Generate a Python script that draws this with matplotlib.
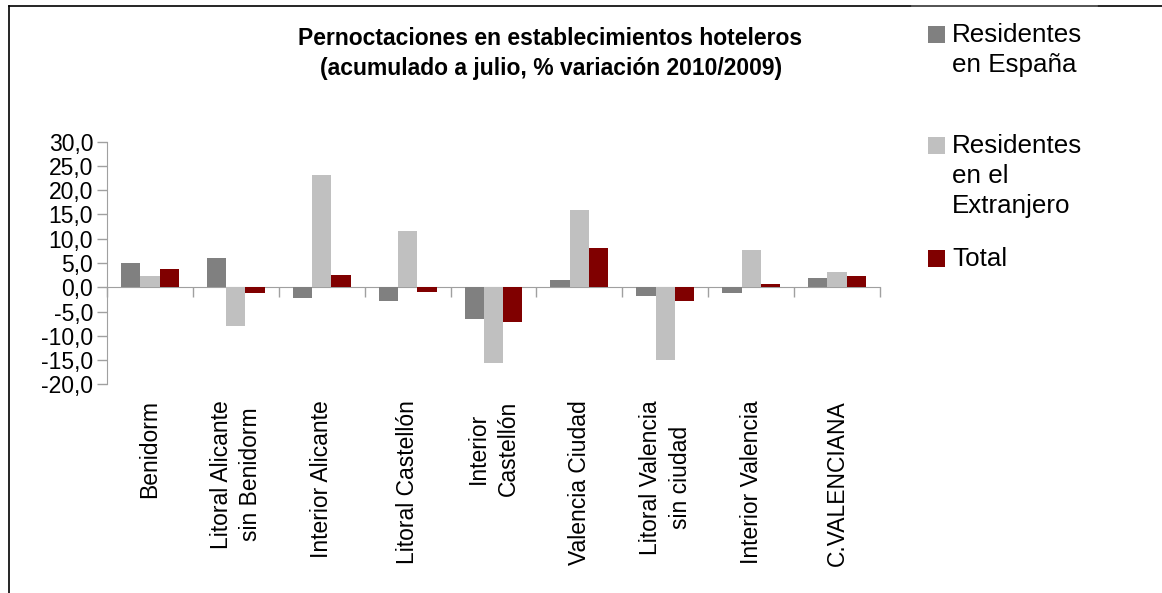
import matplotlib
matplotlib.use("Agg")
import matplotlib.pyplot as plt
import numpy as np
from matplotlib.patches import Rectangle
from matplotlib.lines import Line2D
from matplotlib.ticker import FuncFormatter

plt.rcParams['font.family'] = ['Liberation Sans', 'DejaVu Sans']

categories = ["Benidorm", "Litoral Alicante\nsin Benidorm", "Interior Alicante",
              "Litoral Castellón", "Interior\nCastellón", "Valencia Ciudad",
              "Litoral Valencia\nsin ciudad", "Interior Valencia", "C.VALENCIANA"]
series_names = ["Residentes\nen España", "Residentes\nen el\nExtranjero", "Total"]
residentes_espana = [5.0, 6.0, -2.2, -2.9, -6.6, 1.4, -1.8, -1.2, 1.9]
residentes_extranjero = [2.3, -7.9, 23.1, 11.5, -15.7, 15.9, -15.0, 7.6, 3.1]
total = [3.7, -1.2, 2.5, -1.0, -7.2, 8.0, -2.9, 0.6, 2.3]
colors = ["#808080", "#c0c0c0", "#800000"]
yticks = [-20, -15, -10, -5, 0, 5, 10, 15, 20, 25, 30]

W, H = 1162, 593
fig = plt.figure(figsize=(W / 100, H / 100), dpi=100)
ax = fig.add_axes([107 / W, 1 - 384.3 / H, 773 / W, 242.6 / H])

x = np.arange(len(categories))
bw = 0.225
for i, vals in enumerate([residentes_espana, residentes_extranjero, total]):
    ax.bar(x + (i - 1) * bw, vals, width=bw, color=colors[i], linewidth=0, zorder=2)

ax.set_xlim(-0.5, len(categories) - 0.5)
ax.set_ylim(-20, 30)
ax.set_yticks(yticks)
ax.yaxis.set_major_formatter(FuncFormatter(lambda v, p: f"{v:.1f}".replace('.', ',')))
ax.tick_params(axis='y', direction='out', length=7, color='#a0a0a0', width=1,
               labelsize=16.5, pad=3)
for s in ['top', 'right', 'bottom']:
    ax.spines[s].set_visible(False)
ax.spines['left'].set_color('#a0a0a0')

ax.set_xticks(x)
ax.set_xticklabels(categories, rotation=90, ha='center', va='top',
                   multialignment='center', fontsize=16.5, linespacing=1.36)
ax.tick_params(axis='x', length=0, pad=11.5)

# zero axis with boundary ticks
sec = ax.secondary_xaxis(0.4)
sec.set_xticks(np.arange(-0.5, len(categories), 1.0))
sec.set_xticklabels([])
sec.tick_params(direction='out', length=7, color='#a0a0a0', width=1)
sec.spines['bottom'].set_color('#a0a0a0')

# title
fig.text(550 / W, 1 - 45 / H, "Pernoctaciones en establecimientos hoteleros",
         ha='center', va='baseline', fontsize=16.5, fontweight='bold')
fig.text(551 / W, 1 - 75 / H, "(acumulado a julio, % variación 2010/2009)",
         ha='center', va='baseline', fontsize=16.5, fontweight='bold')

# legend (manual)
leg_baselines = [41.7, 153, 266]
for name, col, yb in zip(series_names, colors, leg_baselines):
    fig.add_artist(Rectangle((928 / W, 1 - (yb + 1) / H), 17 / W, 17 / H,
                             transform=fig.transFigure, color=col, linewidth=0))
    for k, line in enumerate(name.split("\n")):
        fig.text(952 / W, 1 - (yb + 30 * k) / H, line, ha='left', va='baseline',
                 fontsize=18.7)

# outer border (left and top)
fig.add_artist(Line2D([9 / W, 9 / W], [0, 1 - 6 / H], transform=fig.transFigure,
                      color='#000000', linewidth=1.2))
fig.add_artist(Line2D([9 / W, 1], [1 - 6 / H, 1 - 6 / H], transform=fig.transFigure,
                      color='#000000', linewidth=1.2))
fig.add_artist(Line2D([912 / W, 1097 / W], [1 - 6 / H, 1 - 6 / H], transform=fig.transFigure,
                      color='#606060', linewidth=1.2))

fig.savefig("out.png", dpi=100)
